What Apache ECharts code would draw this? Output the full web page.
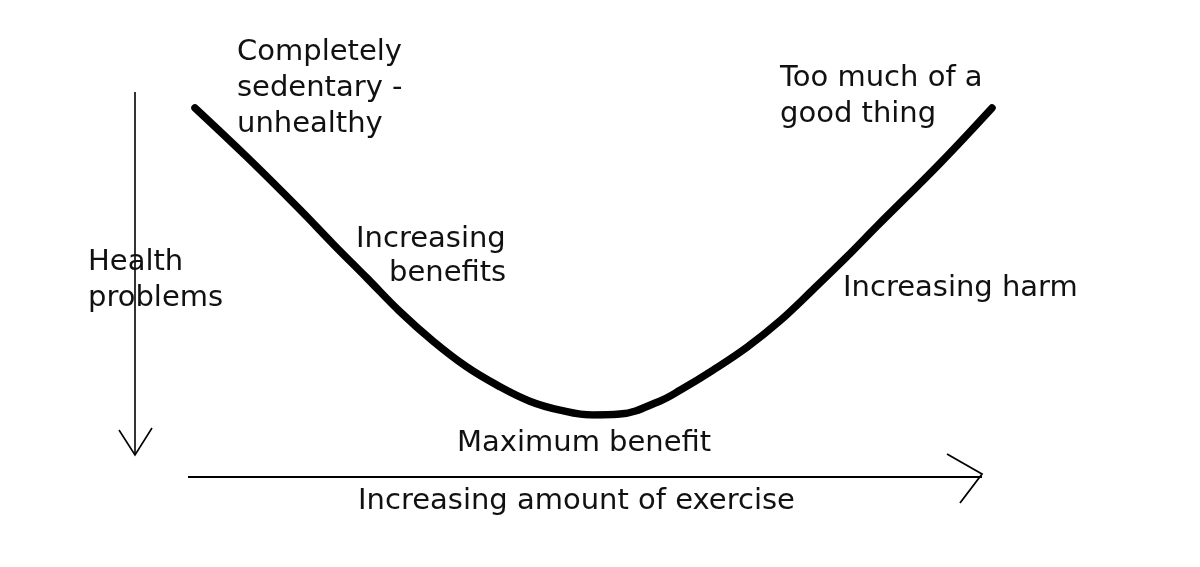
<!DOCTYPE html>
<html>
<head>
<meta charset="utf-8">
<script src="https://cdn.jsdelivr.net/npm/echarts@6/dist/echarts.min.js"></script>
<style>
  html, body { margin: 0; padding: 0; background: #fff; }
  #chart { width: 1200px; height: 567px; }
</style>
</head>
<body>
<div id="chart"></div>
<script>
// amount of exercise (0 = sedentary, 100 = way too much)
const exercise = [0, 6.5, 13.2, 17.3, 21.6, 25.7, 29.9, 34.1, 37.9, 42.0, 45.8, 49.9, 53.3, 58.3, 60.9, 65.0, 69.3, 73.4, 77.5, 81.8, 85.6, 93.5, 100];
// health problems (0 = fewest)
const healthProblems = [99.7, 83.8, 66.6, 55.6, 44.4, 33.6, 23.9, 15.6, 9.7, 4.5, 1.6, 0, 0.3, 4.5, 8.1, 14.6, 22.1, 30.6, 40.6, 51.4, 61.4, 81.8, 99.7];

const FONT = '"DejaVu Sans", Verdana, sans-serif';
const FS = 29;

const chart = echarts.init(document.getElementById('chart'));

// annotation text, y given as baseline of the first line
function label(text, x, baseline) {
    return {
        type: 'text',
        left: x,
        top: baseline - 28,
        style: {
            text: text,
            font: FS + 'px ' + FONT,
            fill: '#111',
            lineHeight: 36
        }
    };
}

const option = {
    backgroundColor: '#fff',
    animation: false,
    grid: { left: 195, right: 208, top: 107, bottom: 152 },
    xAxis: { type: 'value', min: 0, max: 100, show: false },
    yAxis: { type: 'value', min: 0, max: 100, show: false },
    series: [{
        type: 'line',
        data: exercise.map((x, i) => [x, healthProblems[i]]),
        smooth: 0.4,
        showSymbol: false,
        lineStyle: { color: '#000', width: 7.5, cap: 'round', join: 'round' }
    }],
    graphic: [
        // vertical arrow (health problems)
        { type: 'line', shape: { x1: 135, y1: 92, x2: 135, y2: 455 }, style: { stroke: '#000', lineWidth: 1.6 } },
        { type: 'polyline', shape: { points: [[119, 430], [135, 455], [152, 428]] }, style: { stroke: '#000', lineWidth: 1.6, fill: null } },
        // horizontal arrow (exercise)
        { type: 'line', shape: { x1: 188, y1: 477, x2: 982, y2: 477 }, style: { stroke: '#000', lineWidth: 2 } },
        { type: 'polyline', shape: { points: [[947, 454], [982, 474], [960, 503]] }, style: { stroke: '#000', lineWidth: 1.8, fill: null } },
        label('Completely\nsedentary -\nunhealthy', 237, 62),
        label('Too much of a\ngood thing', 780, 88),
        label('Increasing', 356, 249),
        label('benefits', 389, 283),
        label('Health\nproblems', 88, 272),
        label('Increasing harm', 843, 298),
        label('Maximum benefit', 457, 453),
        label('Increasing amount of exercise', 358, 511)
    ]
};

chart.setOption(option);
</script>
</body>
</html>
